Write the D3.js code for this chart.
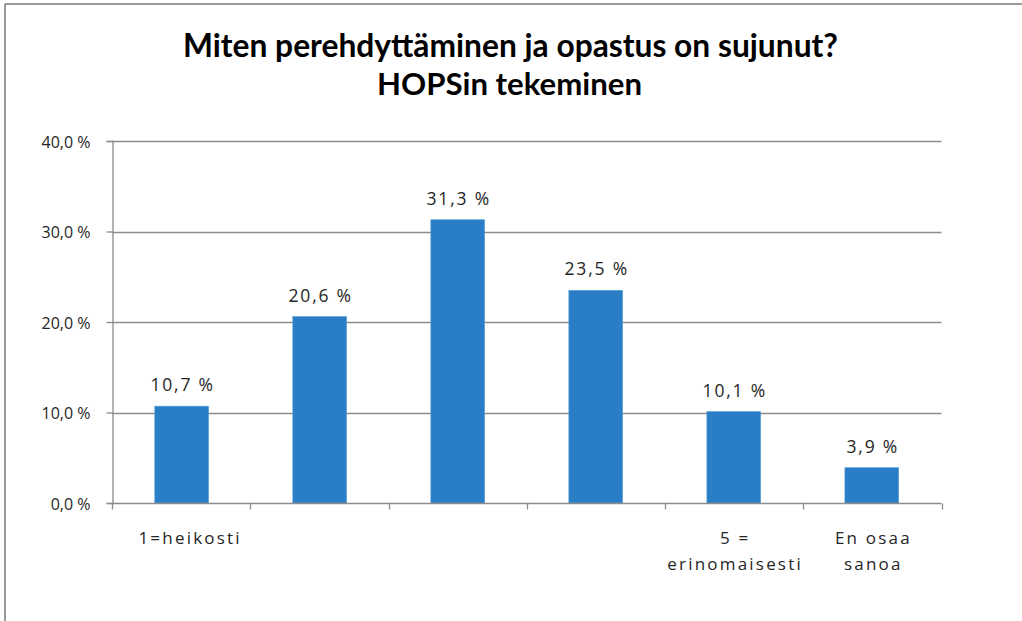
<!DOCTYPE html>
<html>
<head>
<meta charset="utf-8">
<script src="https://cdn.jsdelivr.net/npm/d3@7"></script>
<style>
  html, body { margin: 0; padding: 0; background: #fff; }
  svg { display: block; }
  text { font-family: "Open Sans", "Noto Sans", sans-serif; fill: #262626; }
</style>
</head>
<body>
<svg id="chart" width="1022" height="621"></svg>
<script>
// Survey answers: share of respondents per rating
const categories = ["1", "2", "3", "4", "5", "eos"];
const values = [10.7, 20.6, 31.3, 23.5, 10.1, 3.9];
const categoryLabels = [["1=heikosti"], [], [], [], ["5 =", "erinomaisesti"], ["En osaa", "sanoa"]];
const yTicks = [0, 10, 20, 30, 40];
const titleLines = ["Miten perehdyttäminen ja opastus on sujunut?", "HOPSin tekeminen"];

const svg = d3.select("#chart");
const W = 1022, H = 621;
const plot = { left: 112, right: 941.5, top: 141, bottom: 503 };

const fmt = v => d3.format(".1f")(v).replace(".", ",") + " %";

// outer frame (top and left edges visible)
svg.append("line").attr("x1", 5).attr("x2", W).attr("y1", 4).attr("y2", 4)
  .attr("stroke", "#9a9a9a").attr("stroke-width", 2);
svg.append("line").attr("x1", 5).attr("x2", 5).attr("y1", 4).attr("y2", H)
  .attr("stroke", "#9a9a9a").attr("stroke-width", 2);

// title
const titleWidths = [655, 265];
const titleY = [57, 95];
titleLines.forEach((t, i) => {
  const el = svg.append("text")
    .attr("x", (183 + 838) / 2 + (i === 1 ? -1 : 0))
    .attr("y", titleY[i])
    .attr("text-anchor", "middle")
    .style("font-family", "Lato, 'Open Sans', sans-serif")
    .style("font-weight", "bold")
    .style("font-size", "28px")
    .style("fill", "#000")
    .text(t);
  const w = el.node().getComputedTextLength();
  el.style("font-size", (28 * titleWidths[i] / w).toFixed(2) + "px");
});

const x = d3.scaleBand().domain(categories).range([plot.left, plot.right]).paddingInner(0.61).paddingOuter(0.31);
const xTicks = d3.scaleBand().domain(categories).range([plot.left, plot.right]);
const y = d3.scaleLinear().domain([0, 40]).range([plot.bottom, plot.top]);

// gridlines
svg.append("g").selectAll("line").data(yTicks.filter(d => d > 0)).join("line")
  .attr("x1", plot.left).attr("x2", plot.right)
  .attr("y1", d => Math.round(y(d)) + 0.5).attr("y2", d => Math.round(y(d)) + 0.5)
  .attr("stroke", "#8c8c8c").attr("stroke-width", 1.3);

// y axis
const yAxis = svg.append("g").attr("transform", `translate(${plot.left + 0.5},0)`)
  .call(d3.axisLeft(y).tickValues(yTicks).tickSize(6).tickPadding(16).tickFormat(fmt));
yAxis.select(".domain").attr("stroke", "#8c8c8c").attr("stroke-width", 1.3);
yAxis.selectAll(".tick line").attr("stroke", "#8c8c8c").attr("stroke-width", 1.3);
yAxis.selectAll(".tick text").style("font-size", "16px").style("fill", "#262626")
  .style("font-family", "'Open Sans', sans-serif").attr("dy", "0.38em");

// bars
svg.append("g").selectAll("rect").data(values).join("rect")
  .attr("x", (d, i) => x(categories[i]))
  .attr("width", x.bandwidth())
  .attr("y", d => y(d))
  .attr("height", d => y(0) - y(d))
  .attr("fill", "#2a7ec5")
  .attr("stroke", "#5a9fd6").attr("stroke-width", 0.6);

// value labels
svg.append("g").selectAll("text").data(values).join("text")
  .attr("x", (d, i) => x(categories[i]) + x.bandwidth() / 2 + 1)
  .attr("y", d => y(d) - 15)
  .attr("text-anchor", "middle")
  .style("font-size", "17.5px")
  .style("letter-spacing", "1.8px")
  .text(fmt);

// x axis
const xg = svg.append("g").attr("transform", `translate(0,${plot.bottom + 0.5})`);
xg.append("line").attr("x1", plot.left).attr("x2", plot.right)
  .attr("stroke", "#8c8c8c").attr("stroke-width", 1.3);
const tickPos = categories.map(c => xTicks(c)).concat([plot.right]);
xg.selectAll("line.tk").data(tickPos).join("line").attr("class", "tk")
  .attr("x1", d => Math.round(d) + 0.5).attr("x2", d => Math.round(d) + 0.5)
  .attr("y1", 0).attr("y2", 6)
  .attr("stroke", "#8c8c8c").attr("stroke-width", 1.3);

categories.forEach((c, i) => {
  const cx = xTicks(c) + xTicks.bandwidth() / 2 + (i === 0 ? 9 : 1);
  const t = xg.append("text").attr("text-anchor", "middle")
    .style("font-size", "17px").style("letter-spacing", "2.2px");
  categoryLabels[i].forEach((line, j) => {
    t.append("tspan").attr("x", cx).attr("y", 40 + j * 26).text(line);
  });
});
</script>
</body>
</html>
